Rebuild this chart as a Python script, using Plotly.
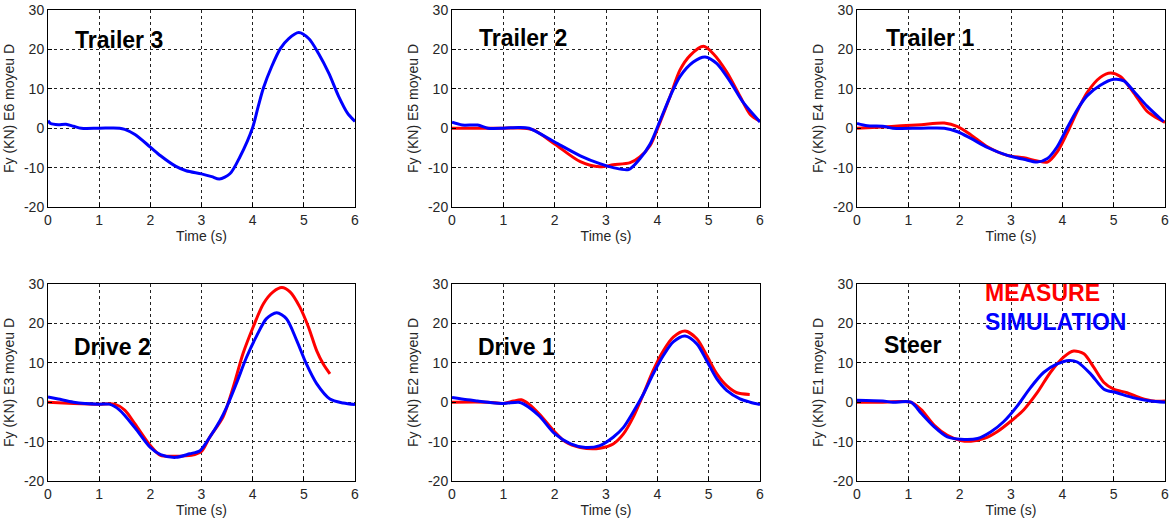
import plotly.graph_objects as go

# ---------------- data ----------------
panel_titles = ["Trailer 3", "Trailer 2", "Trailer 1", "Drive 2", "Drive 1", "Steer"]
y_titles = ["Fy (KN) E6 moyeu D", "Fy (KN) E5 moyeu D", "Fy (KN) E4 moyeu D",
            "Fy (KN) E3 moyeu D", "Fy (KN) E2 moyeu D", "Fy (KN) E1 moyeu D"]
x_ticks = [0, 1, 2, 3, 4, 5, 6]
y_ticks = [-20, -10, 0, 10, 20, 30]

# Trailer 3 (simulation only)
t3_sim_t = [0, 0.05, 0.2, 0.35, 0.5, 0.65, 1.0, 1.4, 1.5, 1.7, 2.0, 2.2, 2.5, 2.7, 3.0, 3.2, 3.35, 3.56,
            3.75, 4.0, 4.11, 4.21, 4.37, 4.54, 4.7, 4.9, 5.1, 5.29, 5.49, 5.68, 5.85, 6.0]
t3_sim_f = [1.9, 1.2, 0.9, 1.0, 0.5, 0.0, 0.0, 0.0, -0.3, -1.6, -4.8, -7.0, -9.7, -10.8, -11.6, -12.3, -12.9, -11.5,
            -7.3, 0.2, 5.6, 10.2, 15.6, 20.2, 22.7, 24.3, 22.7, 18.9, 13.9, 8.1, 3.9, 1.7]

# Trailer 2
t2_mea_t = [0, 0.5, 1.0, 1.4, 1.6, 2.0, 2.5, 2.88, 3.14, 3.47, 3.66, 3.86, 4.05, 4.25, 4.44, 4.64, 4.9, 5.09, 5.35, 5.61, 5.81, 6.0]
t2_mea_f = [0.0, 0.0, 0.0, 0.0, -0.5, -4.0, -8.5, -9.8, -9.3, -8.75, -7.3, -4.4, 1.4, 8.1, 14.75, 18.5, 20.8, 18.9, 14.3, 8.1, 3.5, 1.8]
t2_sim_t = [0, 0.2, 0.5, 0.7, 1.0, 1.3, 1.5, 2.0, 2.5, 2.88, 3.14, 3.44, 3.66, 3.86, 4.05, 4.25, 4.44, 4.7, 4.93, 5.16, 5.42, 5.68, 6.0]
t2_sim_f = [1.5, 0.8, 0.8, 0.0, 0.0, 0.2, 0.0, -3.5, -7.0, -9.0, -10.0, -10.5, -7.75, -4.0, 1.8, 8.1, 13.1, 16.8, 18.1, 16.4, 11.8, 6.4, 1.6]

# Trailer 1
t1_mea_t = [0, 0.5, 0.86, 1.25, 1.7, 1.96, 2.22, 2.54, 2.93, 3.25, 3.51, 3.71, 3.9, 4.09, 4.29, 4.48, 4.74, 4.94, 5.13, 5.39, 5.65, 5.84, 6.0]
t1_mea_f = [0.0, 0.3, 0.6, 0.9, 1.3, 0.4, -1.7, -4.7, -6.9, -7.5, -8.3, -8.6, -6.0, -1.3, 4.3, 9.0, 12.9, 14.0, 13.1, 9.0, 4.3, 2.6, 1.5]
t1_sim_t = [0, 0.2, 0.5, 0.7, 1.25, 1.7, 1.96, 2.22, 2.54, 2.93, 3.25, 3.51, 3.71, 3.9, 4.09, 4.29, 4.48, 4.74, 5.0, 5.2, 5.39, 5.65, 5.97]
t1_sim_f = [1.2, 0.6, 0.5, 0.0, 0.0, 0.0, -0.9, -2.6, -4.9, -6.9, -7.9, -8.6, -7.7, -4.7, 0.0, 4.7, 8.2, 10.9, 12.4, 12.0, 9.4, 5.6, 1.7]

# Drive 2
d2_mea_t = [0, 0.5, 1.0, 1.3, 1.5, 1.7, 2.0, 2.2, 2.5, 2.8, 3.0, 3.16, 3.42, 3.62, 3.81, 4.01, 4.21, 4.4, 4.57, 4.73, 4.92, 5.09, 5.25, 5.38, 5.51]
d2_mea_f = [0.0, -0.3, -0.5, -0.5, -2.0, -5.5, -11.0, -13.5, -13.7, -13.5, -12.5, -8.9, -3.8, 3.8, 12.3, 19.1, 25.0, 28.0, 29.1, 28.0, 24.2, 19.1, 13.1, 9.7, 7.2]
d2_sim_t = [0, 0.2, 0.5, 1.0, 1.2, 1.4, 1.7, 2.0, 2.2, 2.5, 2.77, 2.97, 3.16, 3.36, 3.49, 3.68, 3.88, 4.08, 4.27, 4.47, 4.66, 4.86, 5.05, 5.25, 5.51, 5.77, 6.0]
d2_sim_f = [1.3, 0.8, 0.0, -0.5, -0.5, -2.0, -6.5, -11.5, -13.3, -14.0, -13.1, -12.3, -8.9, -4.7, -1.3, 4.7, 11.4, 16.9, 21.2, 22.7, 21.2, 15.7, 9.7, 4.7, 0.8, -0.2, -0.6]

# Drive 1
d1_mea_t = [0, 0.7, 1.0, 1.2, 1.35, 1.5, 1.7, 2.0, 2.2, 2.5, 2.88, 3.14, 3.34, 3.53, 3.73, 3.92, 4.12, 4.31, 4.54, 4.77, 4.96, 5.16, 5.35, 5.55, 5.8]
d1_mea_f = [0.0, 0.0, -0.3, 0.3, 0.6, -0.5, -3.0, -7.5, -10.0, -11.5, -11.7, -10.6, -8.05, -3.8, 2.1, 8.05, 13.1, 16.5, 18.05, 16.1, 11.9, 7.2, 4.2, 2.4, 1.95]
d1_sim_t = [0, 0.3, 0.5, 0.7, 1.0, 1.3, 1.4, 1.7, 2.0, 2.3, 2.6, 2.88, 3.14, 3.34, 3.53, 3.73, 3.92, 4.12, 4.31, 4.54, 4.77, 4.96, 5.16, 5.35, 5.61, 5.81, 6.0]
d1_sim_f = [1.2, 0.6, 0.3, 0.0, -0.3, 0.0, -0.5, -3.5, -8.0, -10.5, -11.5, -11.0, -8.9, -6.4, -2.5, 2.1, 7.2, 11.9, 15.3, 16.8, 14.8, 10.6, 5.9, 3.0, 0.85, 0.0, -0.6]

# Steer
st_mea_t = [0, 0.5, 1.05, 1.25, 1.5, 1.76, 2.02, 2.22, 2.48, 2.73, 2.99, 3.25, 3.51, 3.77, 4.03, 4.22, 4.42, 4.61, 4.81, 5.0, 5.26, 5.52, 5.78, 6.0]
st_mea_f = [0.0, 0.0, 0.0, -1.9, -5.8, -8.4, -9.7, -9.9, -9.2, -7.5, -4.9, -1.9, 2.4, 7.6, 11.5, 13.0, 12.3, 8.9, 5.0, 3.3, 2.4, 1.1, 0.3, 0.3]
st_sim_t = [0, 0.5, 0.7, 1.05, 1.25, 1.5, 1.76, 2.02, 2.35, 2.61, 2.86, 3.12, 3.38, 3.64, 3.9, 4.13, 4.29, 4.55, 4.81, 5.06, 5.39, 5.71, 6.0]
st_sim_f = [0.5, 0.3, 0.0, 0.0, -2.8, -6.2, -8.8, -9.4, -9.2, -7.5, -4.9, -1.0, 3.7, 7.6, 9.7, 10.6, 10.2, 7.2, 3.3, 2.4, 1.1, 0.3, 0.0]

measure_series = [None, (t2_mea_t, t2_mea_f), (t1_mea_t, t1_mea_f),
                  (d2_mea_t, d2_mea_f), (d1_mea_t, d1_mea_f), (st_mea_t, st_mea_f)]
simulation_series = [(t3_sim_t, t3_sim_f), (t2_sim_t, t2_sim_f), (t1_sim_t, t1_sim_f),
                     (d2_sim_t, d2_sim_f), (d1_sim_t, d1_sim_f), (st_sim_t, st_sim_f)]

# label positions in data coordinates
title_pos = [(0.48, 22.4), (0.48, 23.0), (0.52, 22.9), (0.46, 14.0), (0.46, 14.0), (0.48, 14.4)]

# ---------------- figure ----------------
W, H = 1169, 522
ML, MR, MT, MB = 48, 4, 10, 41
PW, PH = W - ML - MR, H - MT - MB


def xdom(a, b):
    return ((a - ML) / PW, (b - ML) / PW)


def ydom(top, bot):
    return (1 - (bot - MT) / PH, 1 - (top - MT) / PH)


col_dom = [xdom(48, 355), xdom(452, 760), xdom(857, 1165)]
row_dom = [ydom(10, 207), ydom(284, 481)]
col_dom = [(max(0, a), min(1, b)) for a, b in col_dom]
row_dom = [(max(0, a), min(1, b)) for a, b in row_dom]

RED = "#ff0000"
BLUE = "#0000ff"
FONT = "Liberation Sans, Arial, sans-serif"
TXT = "#262626"

fig = go.Figure()
layout = dict(
    width=W, height=H,
    margin=dict(l=ML, r=MR, t=MT, b=MB, autoexpand=False),
    paper_bgcolor="white", plot_bgcolor="white",
    showlegend=False,
    font=dict(family=FONT, size=13, color=TXT),
)

annotations = []
for i in range(6):
    r, c = divmod(i, 3)
    xa = "xaxis" if i == 0 else f"xaxis{i+1}"
    ya = "yaxis" if i == 0 else f"yaxis{i+1}"
    xr = "x" if i == 0 else f"x{i+1}"
    yr = "y" if i == 0 else f"y{i+1}"
    common = dict(
        showline=True, linecolor="black", linewidth=1, mirror=True,
        showgrid=True, gridcolor="#222222", griddash="dot", gridwidth=1,
        zeroline=False, ticks="inside", ticklen=4, tickcolor="black",
        tickfont=dict(family=FONT, size=14, color=TXT), automargin=False,
        ticklabeloverflow="allow",
    )
    layout[xa] = dict(common, domain=col_dom[c], anchor=yr, range=[0, 6],
                      tickvals=x_ticks, ticktext=[str(v) for v in x_ticks],
                      title=dict(text="Time (s)", standoff=2,
                                 font=dict(family=FONT, size=14, color=TXT)))
    layout[ya] = dict(common, domain=row_dom[r], anchor=xr, range=[-20, 30],
                      tickvals=y_ticks, ticktext=[str(v) for v in y_ticks],
                      title=dict(text=y_titles[i], standoff=6,
                                 font=dict(family=FONT, size=14, color=TXT)))

    if measure_series[i] is not None:
        tt, ff = measure_series[i]
        fig.add_trace(go.Scatter(x=tt, y=ff, mode="lines", xaxis=xr, yaxis=yr,
                                 line=dict(color=RED, width=3, shape="spline", smoothing=0.8),
                                 name="MEASURE"))
    tt, ff = simulation_series[i]
    fig.add_trace(go.Scatter(x=tt, y=ff, mode="lines", xaxis=xr, yaxis=yr,
                             line=dict(color=BLUE, width=3, shape="spline", smoothing=0.8),
                             name="SIMULATION"))

    annotations.append(dict(text=f"<b>{panel_titles[i]}</b>", x=title_pos[i][0], y=title_pos[i][1],
                            xref=xr, yref=yr, xanchor="left", yanchor="middle", showarrow=False,
                            font=dict(family=FONT, size=23, color="black")))

annotations.append(dict(text="<b>MEASURE</b>", x=2.46, y=27.7, xref="x6", yref="y6",
                        xanchor="left", yanchor="middle", showarrow=False,
                        font=dict(family=FONT, size=23, color=RED)))
annotations.append(dict(text="<b>SIMULATION</b>", x=2.46, y=20.4, xref="x6", yref="y6",
                        xanchor="left", yanchor="middle", showarrow=False,
                        font=dict(family=FONT, size=23, color=BLUE)))

layout["annotations"] = annotations
fig.update_layout(**layout)
fig.write_html(
    "out.html",
    config={"displayModeBar": False},
    post_script="document.body.style.margin='0px';document.body.style.overflow='hidden';",
)
